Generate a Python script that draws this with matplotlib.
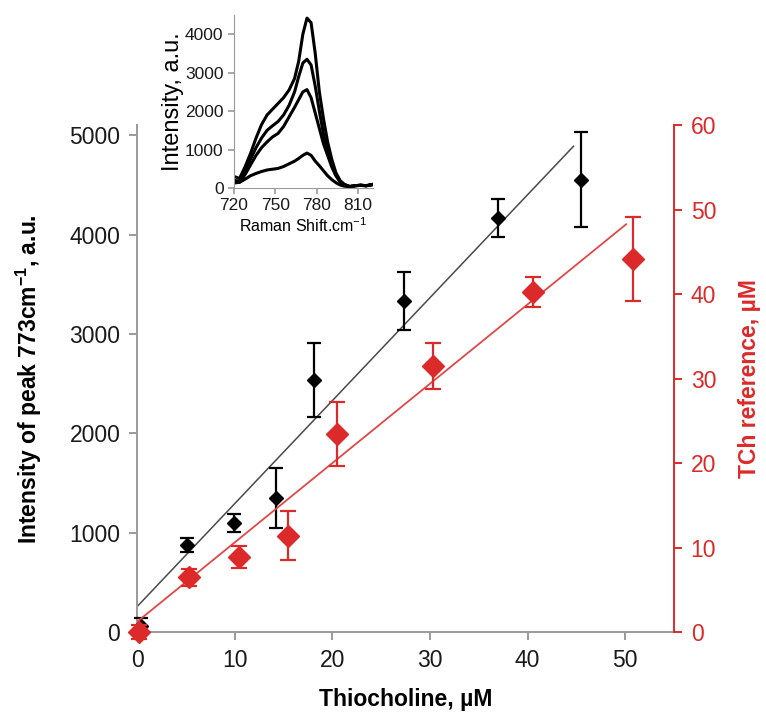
import matplotlib
matplotlib.use("Agg")
import matplotlib.pyplot as plt

plt.rcParams["font.family"] = ["Liberation Sans", "DejaVu Sans"]

# main plot: Raman peak intensity vs thiocholine (left axis)
thio_x = [0.4, 5.1, 9.9, 14.2, 18.1, 27.3, 37.0, 45.5]
peak_int = [60, 875, 1100, 1350, 2535, 3330, 4170, 4555]
peak_err = [80, 70, 90, 300, 370, 290, 190, 475]
peak_fit_x = [0.0, 44.7]
peak_fit_y = [255, 4890]

# reference TCh (right axis)
ref_x = [0.2, 5.3, 10.4, 15.5, 20.5, 30.3, 40.6, 50.8]
ref_val = [0.0, 6.5, 8.9, 11.4, 23.5, 31.5, 40.3, 44.2]
ref_err = [0.8, 1.0, 1.3, 2.9, 3.8, 2.7, 1.8, 5.0]
ref_fit_x = [0.1, 50.1]
ref_fit_y = [1.3, 48.3]

# inset spectra (Raman shift, intensity)
spec_x = [720, 724, 728, 732, 736, 740, 744, 748, 752, 756, 760, 764, 767, 770,
          773, 776, 779, 782, 785, 788, 791, 794, 797, 800, 804, 808, 812, 816, 820]
spec_1 = [300, 250, 550, 900, 1300, 1650, 1900, 2050, 2200, 2350, 2550, 2850, 3300,
          4000, 4420, 4300, 3500, 2500, 1800, 1200, 750, 400, 200, 100, 40, 60, 80, 60, 90]
spec_2 = [200, 180, 420, 750, 1050, 1300, 1500, 1620, 1730, 1900, 2150, 2500, 2900,
          3250, 3350, 3200, 2650, 2000, 1400, 950, 600, 350, 180, 90, 40, 60, 70, 60, 90]
spec_3 = [150, 150, 350, 600, 850, 1050, 1200, 1330, 1420, 1600, 1850, 2100, 2300,
          2500, 2560, 2350, 1950, 1550, 1150, 850, 550, 320, 160, 80, 40, 60, 70, 60, 90]
spec_4 = [130, 150, 230, 320, 380, 430, 470, 490, 510, 560, 630, 700, 770,
          850, 910, 850, 700, 580, 450, 320, 220, 140, 80, 50, 30, 60, 70, 60, 80]

RED = "#dc2a2a"
GREY = "#9a9a9a"

fig = plt.figure(figsize=(7.66, 7.15), dpi=100)
ax = fig.add_axes([0.1789, 0.1161, 0.701, 0.7084])
ax2 = ax.twinx()

eb = ax.errorbar(thio_x, peak_int, yerr=peak_err, fmt="D", color="black", ms=7,
                 elinewidth=1.6, capsize=5, capthick=1.6, zorder=3)
ax.plot(peak_fit_x, peak_fit_y, color="#4a4a4a", lw=1.1, zorder=2)

eb2 = ax2.errorbar(ref_x, ref_val, yerr=ref_err, fmt="D", color=RED, ms=11,
                   elinewidth=1.6, capsize=6, capthick=1.6, zorder=3)
ax2.plot(ref_fit_x, ref_fit_y, color="#e04848", lw=1.3, zorder=2)
for art in list(eb.get_children()) + list(eb2.get_children()):
    art.set_clip_on(False)

ax.set_xlim(0, 55)
ax.set_ylim(0, 5100)
ax2.set_ylim(0, 60)
ax.set_xticks([0, 10, 20, 30, 40, 50])
ax.set_yticks([0, 1000, 2000, 3000, 4000, 5000])
ax2.set_yticks([0, 10, 20, 30, 40, 50, 60])

for a in (ax, ax2):
    a.spines["top"].set_visible(False)
    a.set_facecolor("none")
ax.spines["left"].set_color(GREY)
ax.spines["bottom"].set_color(GREY)
ax.spines["right"].set_visible(False)
ax2.spines["left"].set_visible(False)
ax2.spines["bottom"].set_visible(False)
ax2.spines["right"].set_color(RED)
ax2.spines["right"].set_linewidth(1.4)
ax.spines["left"].set_linewidth(1.4)
ax.spines["bottom"].set_linewidth(1.4)

ax.tick_params(axis="both", colors=GREY, labelcolor="#1a1a1a", labelsize=16.5,
               length=6, width=1.4, pad=6)
ax2.tick_params(axis="y", colors=RED, labelcolor=RED, labelsize=16.5,
                length=6, width=1.4, pad=6)

ax.set_xlabel("Thiocholine, µM", fontsize=16.5, fontweight="bold", labelpad=12)
ax.set_ylabel("Intensity of peak 773cm$^{\\mathregular{-1}}$, a.u.", fontsize=16.5,
              fontweight="bold", labelpad=18)
ax2.set_ylabel("TCh reference, µM", fontsize=16.5, fontweight="bold", color=RED,
               labelpad=16)

# inset
ins = fig.add_axes([0.3055, 0.737, 0.1815, 0.242])
for s in (spec_1, spec_2, spec_3, spec_4):
    ins.plot(spec_x, s, color="black", lw=2.2)
ins.set_xlim(720, 821)
ins.set_ylim(0, 4500)
ins.set_xticks([720, 750, 780, 810])
ins.set_yticks([0, 1000, 2000, 3000, 4000])
ins.spines["top"].set_visible(False)
ins.spines["right"].set_visible(False)
ins.spines["left"].set_color(GREY)
ins.spines["bottom"].set_color(GREY)
ins.tick_params(colors=GREY, labelcolor="#1a1a1a", labelsize=12.5, length=4, width=1.2)
ins.set_ylabel("Intensity, a.u.", fontsize=17, labelpad=1)
ins.set_xlabel("Raman Shift.cm$^{\\mathregular{-1}}$", fontsize=11.5, labelpad=2)
ins.patch.set_alpha(0)

fig.savefig("out.png", dpi=100)
